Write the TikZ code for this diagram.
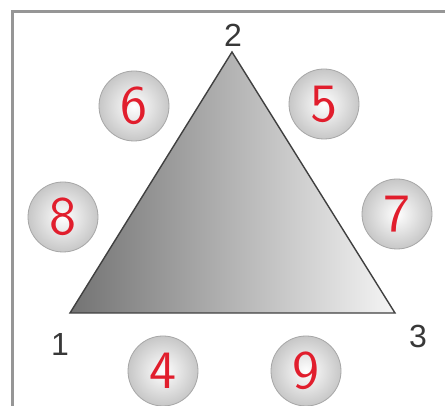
\documentclass[tikz,border=0pt]{standalone}
\usepackage{fontspec}
\setsansfont{Liberation Sans}
\newfontfamily\digitfont[Extension=.otf]{lmsans10-regular}
\definecolor{framegray}{RGB}{150,150,150}
\definecolor{digitred}{RGB}{225,30,45}
\tikzset{
  corner/.style={font=\sffamily\fontsize{16}{16}\selectfont, text=black!78},
  ball/.style={circle, minimum size=35pt, inner sep=0pt, draw=black!35,
    inner color=white, outer color=black!22},
  digit/.style={font=\digitfont\fontsize{27}{27}\selectfont, text=digitred}
}
\begin{document}
\begin{tikzpicture}[x=0.5pt, y=-0.5pt]
    \clip (0,0) rectangle (445,406);
    \fill[white] (0,0) rectangle (445,406);

    % Frame
    \draw[framegray, line width=1.5pt] (12,12) rectangle (460,420);

    % Triangle
    \coordinate (v1) at (70,313);
    \coordinate (v2) at (232,52);
    \coordinate (v3) at (395,313);
    \shade[left color=black!55, right color=black!4, draw=black!75, line width=0.7pt]
        (v1) -- (v2) -- (v3) -- cycle;
    \node[corner] (n1) at (60,344) {1};
    \node[corner] (n2) at (233,35) {2};
    \node[corner] (n3) at (418,336) {3};

    % Balls
    \node[ball] (b6) at (134,106) {};
    \node[ball] (b5) at (324,104) {};
    \node[ball] (b8) at (63,217) {};
    \node[ball] (b7) at (397,214) {};
    \node[ball] (b4) at (163,371) {};
    \node[ball] (b9) at (306,371) {};
    \node[digit] at (b6) {6};
    \node[digit] at (b5) {5};
    \node[digit] at (b8) {8};
    \node[digit] at (b7) {7};
    \node[digit] at (b4) {4};
    \node[digit] at (b9) {9};
\end{tikzpicture}
\end{document}
